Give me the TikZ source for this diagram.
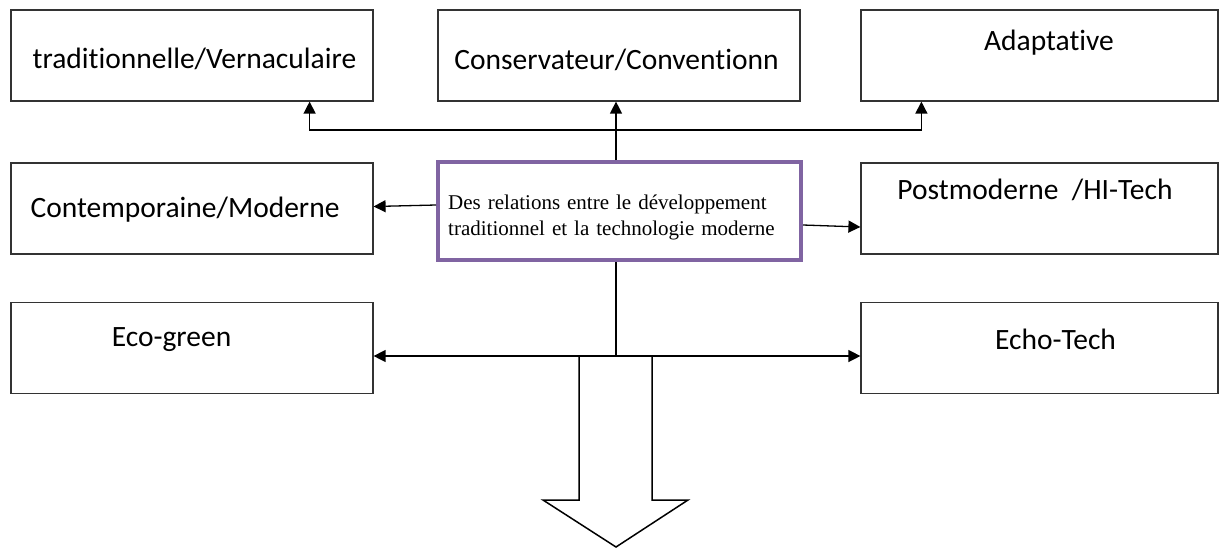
\documentclass[tikz,border=0pt]{standalone}
\usepackage{fontspec}
\setmainfont[Ligatures=NoCommon]{Carlito}
\newfontfamily\relfont{Liberation Serif}
\usepackage{tikz}
\usetikzlibrary{arrows.meta,positioning,calc}
\definecolor{relpurple}{HTML}{8064A2}

\begin{document}
\begin{tikzpicture}[x=1pt, y=-1pt,
  box/.style={rectangle, draw=black!80, line width=1.2pt, minimum width=362pt, minimum height=91pt, inner sep=0pt},
  lbl/.style={anchor=base, inner sep=0pt, font=\fontsize{29.5}{34}\selectfont},
  tip/.style={-{Triangle[length=12pt,width=12pt]}, line width=1.3pt}]
  \useasboundingbox (0,0) rectangle (1222,547);

  \node[box] (trad) at (192,55.5) {};
  \node[box] (cons) at (619,55.5) {};
  \node[box, minimum width=357pt] (adap) at (1039.5,55.5) {};
  \node[box] (cont) at (192,208.5) {};
  \node[box, minimum width=357pt] (post) at (1039.5,208.5) {};
  \node[box] (eco) at (192,348) {};
  \node[box, minimum width=357pt] (echo) at (1039.5,348) {};

  \node[lbl] (tradtxt) at (194.5,68) {traditionnelle/Vernaculaire};
  \node[lbl] (constxt) at (616.5,69) {Conservateur/Conventionn};
  \node[lbl] (adaptxt) at (1049,50) {Adaptative};
  \node[lbl] (conttxt) at (185,217) {Contemporaine/Moderne};
  \node[lbl] (posttxt) at (1035,199) {Postmoderne\ \ /HI-Tech};
  \node[lbl] (ecotxt) at (171.5,346) {Eco-green};
  \node[lbl] (echotxt) at (1055.5,349) {Echo-Tech};

  \node[draw=relpurple, line width=4pt, minimum width=363pt, minimum height=98pt] (rel) at (619.5,211) {};
  \node[anchor=west, inner sep=0pt, text width=345pt, align=left,
        font=\relfont\fontsize{21}{26}\selectfont] (reltxt) at (448,217)
        {Des relations entre le développement\\traditionnel et la technologie moderne};

  % up to the three top boxes
  \coordinate (rtop) at ($(rel.north)+(-3.5,0)$);
  \coordinate (split) at ($(rtop)+(0,-30)$);
  \draw[tip] (rtop) -- (rtop |- cons.south);
  \draw[tip] (split) -| ($(trad.south east)+(-64,0)$);
  \draw[tip] (split) -| ($(adap.south west)+(61,0)$);

  % sideways
  \draw[tip] ($(rel.west)+(0,-6)$) -- ($(cont.east)+(0,-2)$);
  \draw[tip] ($(rel.east)+(0,14)$) -- ($(post.west)+(0,18.5)$);

  % down
  \coordinate (rbot) at ($(rel.south)+(-3.5,0)$);
  \draw[line width=1.3pt] (rbot) -- ++(0,94) coordinate (hub);
  \draw[tip] (hub) -- (hub -| eco.east);
  \draw[tip] (hub) -- (hub -| echo.west);
  \draw[line width=1.5pt, fill=white] ($(hub)+(-37,0)$) -- ++(0,144) -- ++(-36,0)
    -- ($(hub)+(0,191)$) -- ($(hub)+(72,144)$) -- ++(-36,0) -- ($(hub)+(36,0)$) -- cycle;
\end{tikzpicture}
\end{document}
